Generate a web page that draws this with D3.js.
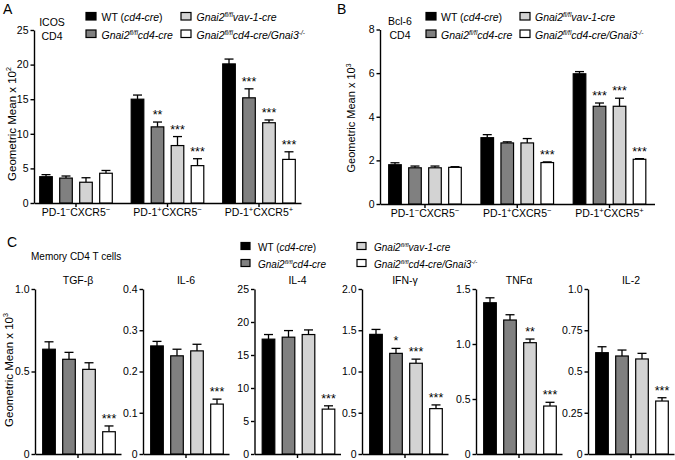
<!DOCTYPE html>
<html><head><meta charset="utf-8">
<script src="https://cdn.jsdelivr.net/npm/d3@7"></script>
<style>
body{margin:0;background:#fff}
svg{display:block;font-family:Arial,"Liberation Sans",Helvetica,sans-serif}
</style></head><body>
<svg id="chart" width="675" height="460"></svg>
<script>
// ---------------- DATA ----------------
const seriesLabels = [
  "WT (<i>cd4-cre</i>)",
  "<i>Gnai2<sup>fl/fl</sup>cd4-cre</i>",
  "<i>Gnai2<sup>fl/fl</sup>vav-1-cre</i>",
  "<i>Gnai2<sup>fl/fl</sup>cd4-cre/Gnai3<sup>-/-</sup></i>"
];
const subsetLabels = [
  "PD-1<sup>−</sup>CXCR5<sup>−</sup>",
  "PD-1<sup>+</sup>CXCR5<sup>−</sup>",
  "PD-1<sup>+</sup>CXCR5<sup>+</sup>"
];

// Panel A: ICOS (x10^2), rows = subsets, cols = series
const icosMeans  = [[3.8, 3.6, 3.0, 4.3], [15.0, 11.0, 8.3, 5.4], [20.1, 15.2, 11.6, 6.3]];
const icosErrors = [[0.3, 0.3, 0.65, 0.4], [0.6, 0.7, 1.3, 1.0], [0.7, 1.3, 0.4, 1.1]];
const icosStars  = [["", "", "", ""], ["", "**", "***", "***"], ["", "***", "***", "***"]];
const icosTicks  = [0, 5, 10, 15, 20, 25];

// Panel B: Bcl-6 (x10^3)
const bcl6Means  = [[1.8, 1.66, 1.66, 1.68], [3.04, 2.8, 2.8, 1.9], [5.97, 4.48, 4.48, 2.05]];
const bcl6Errors = [[0.09, 0.08, 0.08, 0.03], [0.14, 0.05, 0.2, 0.03], [0.1, 0.15, 0.37, 0.03]];
const bcl6Stars  = [["", "", "", ""], ["", "", "", "***"], ["", "***", "***", "***"]];
const bcl6Ticks  = [0, 2, 4, 6, 8];

// Panel C: memory CD4 T cell cytokines (x10^3)
const cytokines = ["TGF-β", "IL-6", "IL-4", "IFN-γ", "TNFα", "IL-2"];
const cytokineMeans = [
  [0.635, 0.574, 0.513, 0.135],
  [0.262, 0.238, 0.250, 0.121],
  [17.4, 17.7, 18.1, 6.8],
  [1.45, 1.22, 1.10, 0.55],
  [1.375, 1.218, 1.012, 0.436],
  [0.614, 0.594, 0.576, 0.321]
];
const cytokineErrors = [
  [0.045, 0.042, 0.04, 0.035],
  [0.011, 0.016, 0.016, 0.012],
  [0.7, 1.0, 0.7, 0.5],
  [0.06, 0.06, 0.05, 0.045],
  [0.045, 0.048, 0.033, 0.034],
  [0.036, 0.036, 0.034, 0.02]
];
const cytokineStars = [
  ["", "", "", "***"], ["", "", "", "***"], ["", "", "", "***"],
  ["", "*", "***", "***"], ["", "", "**", "***"], ["", "", "", "***"]
];
const cytokineMax = [1.0, 0.4, 25, 2.0, 1.5, 1.0];
const cytokineTicks = [[0, 0.5, 1.0], [0, 0.1, 0.2, 0.3, 0.4], [0, 5, 10, 15, 20, 25],
  [0, 0.5, 1.0, 1.5, 2.0], [0, 0.5, 1.0, 1.5], [0, 0.25, 0.5, 0.75, 1.0]];
const cytokineTickLabels = [["0", "0.5", "1.0"], ["0", "0.1", "0.2", "0.3", "0.4"],
  ["0", "5", "10", "15", "20", "25"], ["0", "0.5", "1.0", "1.5", "2.0"],
  ["0", "0.5", "1.0", "1.5"], ["0", "0.25", "0.5", "0.75", "1.0"]];

// ---------------- STYLE ----------------
const colors = ["#000000", "#808080", "#d3d3d3", "#ffffff"];
const svg = d3.select("#chart");

function rich(sel, markup, size, supScale) {
  const re = /<(\/?)(i|sup)>|([^<]+)/g;
  let italic = false, sup = false, prevSup = false, m;
  const k = size * 0.38, ss = supScale || 0.62;
  while ((m = re.exec(markup))) {
    if (m[2]) { if (m[2] === "i") italic = !m[1]; else sup = !m[1]; continue; }
    const t = sel.append("tspan").text(m[3]);
    if (italic) t.attr("font-style", "italic");
    if (sup) { t.attr("font-size", size * ss); if (!prevSup) t.attr("dy", -k); }
    else if (prevSup) t.attr("dy", k);
    prevSup = sup;
  }
  return sel;
}
function txt(g, x, y, markup, size, anchor, supScale) {
  const t = g.append("text").attr("x", x).attr("y", y).attr("font-size", size)
    .attr("text-anchor", anchor || "start").attr("fill", "#000");
  return rich(t, markup, size, supScale);
}
function styleAxis(g) {
  g.attr("font-family", null).attr("font-size", null);
  g.selectAll("path.domain, line").attr("stroke", "#000").attr("stroke-width", 1.4);
  g.selectAll("text").attr("font-size", 10.5).attr("fill", "#000");
}
function drawBars(g, x0, y, means, errs, stars) {
  means.forEach((v, i) => {
    const x = x0(i), w = x0.bandwidth(), cx = x + w / 2;
    const top = y(v + errs[i]);
    g.append("line").attr("x1", cx).attr("x2", cx).attr("y1", y(v)).attr("y2", top)
      .attr("stroke", "#000").attr("stroke-width", 1.3);
    g.append("line").attr("x1", cx - 4.5).attr("x2", cx + 4.5).attr("y1", top).attr("y2", top)
      .attr("stroke", "#000").attr("stroke-width", 1.3);
    g.append("rect").attr("x", x).attr("y", y(v)).attr("width", w).attr("height", y(0) - y(v))
      .attr("fill", colors[i]).attr("stroke", "#000").attr("stroke-width", 1.2);
    if (stars[i]) g.append("text").attr("x", cx).attr("y", top - 3).attr("text-anchor", "middle")
      .attr("font-size", 12.5).text(stars[i]);
  });
}
function drawLegend(g, x, y, colX2, rowGap, sw, sh, fs, gap) {
  const pos = [[x, y], [x, y + rowGap], [colX2, y], [colX2, y + rowGap]];
  seriesLabels.forEach((lab, i) => {
    const [lx, ly] = pos[i];
    g.append("rect").attr("x", lx).attr("y", ly - sh).attr("width", sw).attr("height", sh)
      .attr("fill", colors[i]).attr("stroke", "#000").attr("stroke-width", 1.2);
    txt(g, lx + sw + gap, ly + 1, lab, fs);
  });
}
function grouped(g, opt) {
  const y = d3.scaleLinear().domain(opt.domain).range([opt.y0, opt.y1]);
  const xg = d3.scaleBand().domain(subsetLabels).range([opt.x0, opt.x1])
    .paddingInner(opt.pi).paddingOuter(opt.po);
  const xi = d3.scaleBand().domain(d3.range(4)).range([0, xg.bandwidth()])
    .paddingInner(0.37).paddingOuter(0.185);
  const ya = g.append("g").attr("transform", `translate(${opt.x0},0)`)
    .call(d3.axisLeft(y).tickValues(opt.ticks).tickSize(3.5).tickSizeOuter(0).tickPadding(2));
  styleAxis(ya);
  const xa = g.append("g").attr("transform", `translate(0,${opt.y0})`)
    .call(d3.axisBottom(xg).tickSize(4).tickSizeOuter(0).tickFormat(""));
  styleAxis(xa);
  subsetLabels.forEach((c, k) => {
    const gx = xg(c);
    const sc = xi.copy().range([gx, gx + xg.bandwidth()]);
    drawBars(g, sc, y, opt.means[k], opt.errs[k], opt.stars[k]);
    txt(g, gx + xg.bandwidth() / 2, opt.y0 + 12.5, c, 10.5, "middle", 0.72);
  });
}

// ---------- Panel A ----------
const A = svg.append("g");
txt(A, 3, 14, "A", 14);
txt(A, 52, 26, "ICOS", 10.5, "middle");
txt(A, 52, 40, "CD4", 10.5, "middle");
drawLegend(A, 86, 20, 181, 17.5, 10, 7.5, 10.5, 5.5);
txt(A, 0, 0, "Geometric Mean x 10<sup>2</sup>", 11.5, "middle").attr("transform", "translate(15.5,124) rotate(-90)");
grouped(A, { domain: [0, 25], y0: 203, y1: 30, x0: 34, x1: 301, pi: 0.126, po: 0.022,
  ticks: icosTicks, means: icosMeans, errs: icosErrors, stars: icosStars });

// ---------- Panel B ----------
const B = svg.append("g");
txt(B, 337, 14, "B", 14);
txt(B, 400, 25, "Bcl-6", 10.5, "middle");
txt(B, 400, 38.5, "CD4", 10.5, "middle");
drawLegend(B, 426, 20, 520, 17.5, 10, 7.5, 10.5, 5);
txt(B, 0, 0, "Geometric Mean x 10<sup>3</sup>", 11, "middle").attr("transform", "translate(355,118) rotate(-90)");
grouped(B, { domain: [0, 8], y0: 204, y1: 29.5, x0: 380, x1: 654.5, pi: 0.133, po: 0.054,
  ticks: bcl6Ticks, means: bcl6Means, errs: bcl6Errors, stars: bcl6Stars });

// ---------- Panel C ----------
const C = svg.append("g");
txt(C, 7, 247, "C", 14);
txt(C, 31, 260, "Memory CD4 T cells", 10, "start");
drawLegend(C, 241, 249.5, 357, 17, 9, 7, 10, 8);
txt(C, 0, 0, "Geometric Mean x 10<sup>3</sup>", 11.5, "middle").attr("transform", "translate(12.5,370) rotate(-90)");
const cPanelX = [35, 143, 254.5, 362, 476, 588];
cytokines.forEach((name, p) => {
  const ax = cPanelX[p];
  const g = C.append("g");
  const y = d3.scaleLinear().domain([0, cytokineMax[p]]).range([454, 289]);
  const xc = d3.scaleBand().domain([name]).range([ax, ax + 86]);
  const xi = d3.scaleBand().domain(d3.range(4)).range([ax + 4, ax + 84])
    .paddingInner(0.37).paddingOuter(0.185);
  const ya = g.append("g").attr("transform", `translate(${ax},0)`)
    .call(d3.axisLeft(y).tickValues(cytokineTicks[p])
      .tickFormat((d, i) => cytokineTickLabels[p][i]).tickSize(3.5).tickSizeOuter(0).tickPadding(2));
  styleAxis(ya);
  const xa = g.append("g").attr("transform", "translate(0,454)")
    .call(d3.axisBottom(xc).tickSize(4).tickSizeOuter(0).tickFormat(""));
  styleAxis(xa);
  drawBars(g, xi, y, cytokineMeans[p], cytokineErrors[p], cytokineStars[p]);
  txt(g, ax + 43, 284, name, 10.5, "middle");
});
</script>
</body></html>
